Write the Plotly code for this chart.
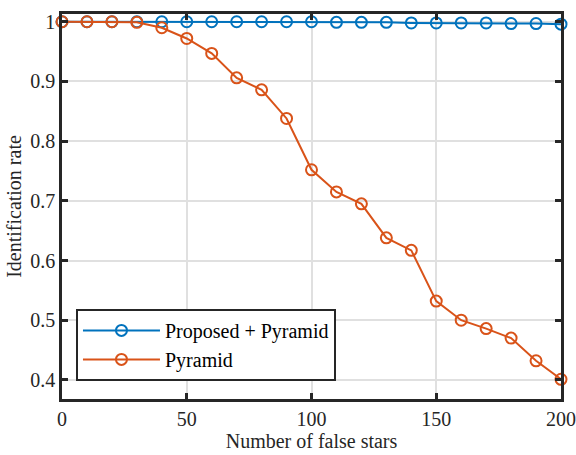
import plotly.graph_objects as go

false_stars = [0, 10, 20, 30, 40, 50, 60, 70, 80, 90, 100, 110, 120, 130, 140, 150, 160, 170, 180, 190, 200]
proposed_pyramid = [1.0, 1.0, 1.0, 1.0, 1.0, 1.0, 1.0, 1.0, 1.0, 1.0, 1.0, 0.999, 0.999, 0.999, 0.998, 0.998, 0.998, 0.998, 0.997, 0.997, 0.996]
pyramid = [1.0, 1.0, 1.0, 0.999, 0.99, 0.972, 0.947, 0.906, 0.886, 0.838, 0.752, 0.715, 0.695, 0.638, 0.617, 0.532, 0.500, 0.486, 0.470, 0.432, 0.401]
x_ticks = [0, 50, 100, 150, 200]
y_ticks = [0.4, 0.5, 0.6, 0.7, 0.8, 0.9, 1.0]
y_tick_labels = ["0.4", "0.5", "0.6", "0.7", "0.8", "0.9", "1"]

font = "Liberation Serif"

fig = go.Figure()
fig.add_trace(go.Scatter(
    x=false_stars, y=proposed_pyramid, mode="lines+markers", name="Proposed + Pyramid",
    line=dict(color="#0072BD", width=2),
    marker=dict(symbol="circle-open", size=11, color="#0072BD", line=dict(width=2)),
    cliponaxis=False,
))
fig.add_trace(go.Scatter(
    x=false_stars, y=pyramid, mode="lines+markers", name="Pyramid",
    line=dict(color="#D95319", width=2),
    marker=dict(symbol="circle-open", size=11, color="#D95319", line=dict(width=2)),
    cliponaxis=False,
))

axis_common = dict(
    showline=True, linecolor="#262626", linewidth=2.5, mirror="ticks",
    ticks="inside", ticklen=6, tickwidth=2.5, tickcolor="#262626",
    showgrid=True, gridcolor="#E0E0E0", gridwidth=2,
    zeroline=False, automargin=False, ticklabeloverflow="allow",
    tickfont=dict(family=font, size=20, color="#262626"),
)

fig.update_xaxes(
    range=[0, 200], tickvals=x_ticks,
    title=dict(text="Number of false stars", font=dict(family=font, size=20, color="#262626"), standoff=6),
    **axis_common,
)
fig.update_yaxes(
    range=[0.368, 1.013], tickvals=y_ticks, ticktext=y_tick_labels,
    title=dict(text="Identification rate", font=dict(family=font, size=20, color="#262626"), standoff=4),
    **axis_common,
)

fig.update_layout(
    width=576, height=455,
    margin=dict(l=62, r=15, t=14, b=56),
    paper_bgcolor="white", plot_bgcolor="white",
    font=dict(family=font),
    showlegend=True,
    legend=dict(
        x=0.028, y=0.234, xanchor="left", yanchor="top",
        bgcolor="white", bordercolor="#262626", borderwidth=2,
        font=dict(family=font, size=20, color="#000000"),
        itemwidth=77, tracegroupgap=0,
    ),
)

fig.write_html("out.html")
